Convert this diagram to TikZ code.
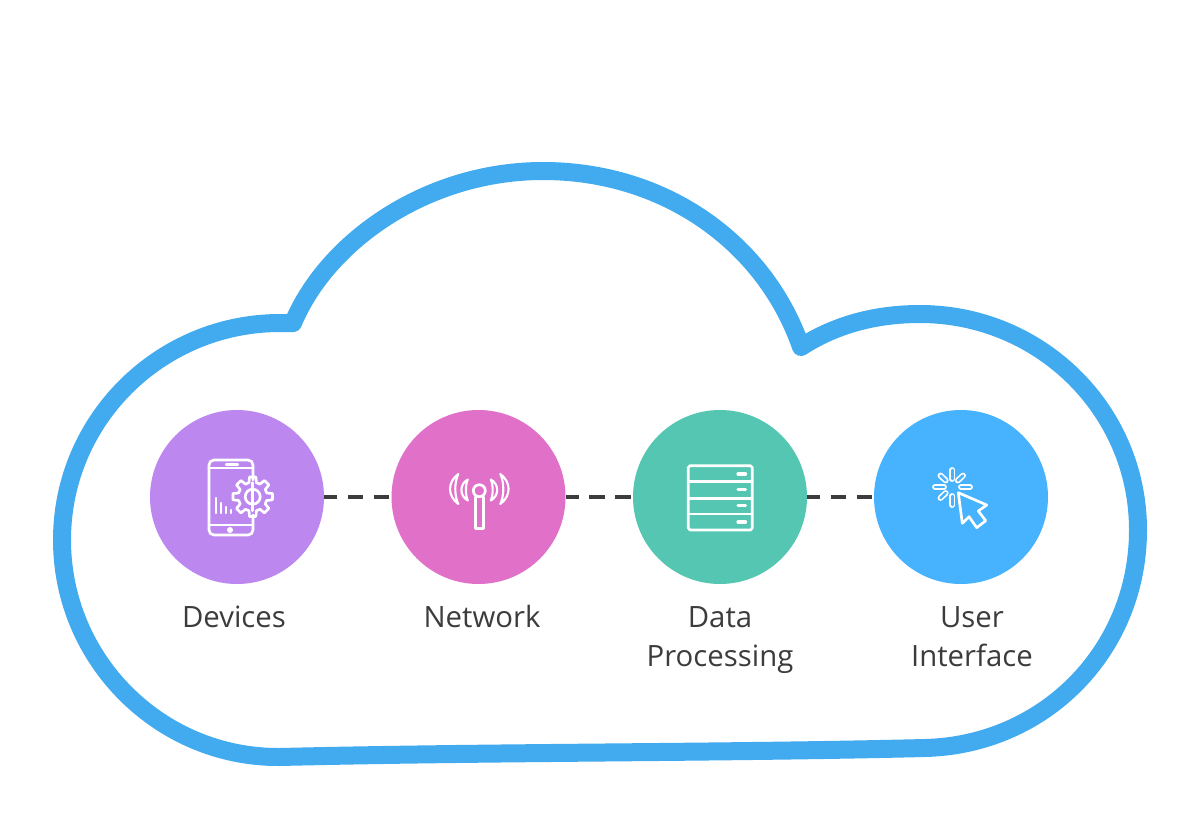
\documentclass[tikz,border=0pt]{standalone}
\usepackage{fontspec}
\setmainfont{Open Sans}
\definecolor{cloudc}{HTML}{42ABEF}
\definecolor{purp}{HTML}{BC88F0}
\definecolor{pink}{HTML}{E170C9}
\definecolor{teal}{HTML}{54C6B2}
\definecolor{sky}{HTML}{47B2FD}
\definecolor{ink}{HTML}{3C3C3C}
\tikzset{
  cloudline/.style={draw=cloudc,line width=13.5pt,line join=round,line cap=round},
  disc/.style={circle,minimum size=130.5pt,inner sep=0pt,outer sep=0pt},
  link/.style={draw=ink,line width=2.3pt,dash pattern=on 11.6pt off 7.9pt,dash phase=1.8pt},
  label/.style={text=ink,font=\fontsize{22}{29.3}\selectfont,align=center,anchor=north},
  icon/.style={draw=white,line width=2pt,line join=round,line cap=round},
  thin icon/.style={draw=white,line width=1.6pt,line join=round,line cap=round},
}
\begin{document}
\begin{tikzpicture}[x=0.75pt,y=-0.75pt]
\useasboundingbox (0,0) rectangle (1200,817);
\fill[white] (0,0) rectangle (1200,817);
% cloud
\draw[cloudline]
 (293,323) .. controls (328,240) and (428,171) .. (543,171)
 .. controls (665,171) and (765,243) .. (801,347)
 .. controls (835,325) and (875,314) .. (920,314)
 .. controls (1040,314) and (1138,410) .. (1138,530)
 .. controls (1138,650) and (1045,745) .. (925,748)
 .. controls (720,753) and (490,752) .. (280,757)
 .. controls (160,758) and (62,660) .. (62,540)
 .. controls (62,420) and (160,323) .. (280,323)
 -- cycle;
% discs
\node[disc,fill=purp] (dev) at (237,497) {};
\node[disc,fill=pink] (net) at (478.5,497) {};
\node[disc,fill=teal] (dat) at (720,497) {};
\node[disc,fill=sky] (ui) at (961,497) {};
% links
\draw[link] (dev.east) -- (net.west);
\draw[link] (net.east) -- (dat.west);
\draw[link] (dat.east) -- (ui.west);
% labels
\node[label] (l1) at (234,595.3) {\strut Devices};
\node[label] (l2) at (482,595.3) {\strut Network};
\node[label] (l3) at (720,595.3) {\strut Data\\Processing};
\node[label] (l4) at (972,595.3) {\strut User\\Interface};
% phone
\draw[icon] (253,480) -- (253,465) arc (0:-90:5) -- (214,460) arc (-90:-180:5) -- (209,530) arc (180:90:5) -- (248,535) arc (90:0:5) -- (253,515);
\draw[icon] (209,468) -- (253,468) (209,525) -- (253,525);
\draw[thin icon] (226,464.5) -- (238,464.5);
\fill[white] (230,530) circle (3);
\draw[thin icon] (216,498) -- (216,513) (220.7,503) -- (220.7,513) (225.7,507) -- (225.7,513) (230.7,510) -- (230.7,513);
% gear
\begin{scope}[shift={(252.7,496.7)}]
\draw[icon] (0:20) \foreach \a in {0,45,...,315} { -- ({\a+9}:20) -- ({\a+15}:14.5) -- ({\a+30}:14.5) -- ({\a+36}:20) -- ({\a+45-9+18}:20)};
\draw[icon] (0,0) circle (7.5);
\draw[icon] (0,-14) -- (0,14);
\end{scope}
% antenna
\draw[icon] (479.3,490.7) circle (6);
\draw[icon] (475.7,497) -- (475.7,528.3) -- (483.3,528.3) -- (483.3,497);
\foreach \s in {1,-1}{
\begin{scope}[shift={(479.3,0)},xscale=\s]
\draw[thin icon] (-11.5,479.5) .. controls (-20,484) and (-20,496) .. (-11.5,500.5) .. controls (-14,495) and (-14,485) .. (-11.5,479.5) -- cycle;
\draw[thin icon] (-21,474) .. controls (-32,482) and (-32,496) .. (-21,504) .. controls (-25,496) and (-25,482) .. (-21,474) -- cycle;
\end{scope}}
% server
\draw[icon] (690,465.7) -- (750.5,465.7) -- (752.3,467.5) -- (752.3,528) -- (750.5,530) -- (690,530) -- (688.3,528) -- (688.3,467.5) -- cycle;
\draw[icon] (688.3,481.7) -- (752.3,481.7) (688.3,498.3) -- (752.3,498.3) (688.3,514) -- (752.3,514);
\draw[draw=white,line width=2.4pt,line cap=round] (738,474) -- (745.5,474) (738,489.3) -- (745.5,489.3) (738,505.7) -- (745.5,505.7) (738,522) -- (745.5,522);
% cursor
\draw[icon] (958.3,492.7) -- (986.7,505) -- (978.3,511) -- (985.7,520.7) -- (976.7,527.7) -- (969,516.7) -- (962.3,523.3) -- cycle;
\foreach \xa/\ya/\xb/\yb in {952.3/470/952.3/479, 963/475.5/957.8/480.5, 961/487/970/487, 952.3/496/952.3/505, 945.7/493/940.5/498, 935/487/944/487, 940.5/475.5/945.7/480.5}{
  \draw[white,line width=4.4pt,line cap=round] (\xa,\ya) -- (\xb,\yb);
  \draw[sky,line width=1.9pt,line cap=round] (\xa,\ya) -- (\xb,\yb);
}
\end{tikzpicture}
\end{document}
